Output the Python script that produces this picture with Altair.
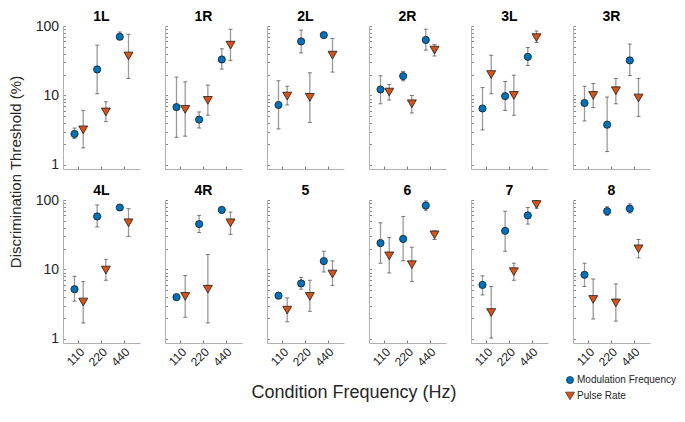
import altair as alt
import pandas as pd

panels = ["1L", "1R", "2L", "2R", "3L", "3R", "4L", "4R", "5", "6", "7", "8"]
freqs = ["110", "220", "440"]
series = ["Modulation Frequency", "Pulse Rate"]

mf_val = [[2.8, 23.7, 70], [6.8, 4.5, 33], [7.3, 60, 74], [12.2, 19, 63],
          [6.5, 9.8, 36], [7.8, 3.8, 32], [5.2, 58, 78], [4.0, 45, 72],
          [4.2, 6.3, 13.2], [24, 27.5, 83], [6.0, 36, 60], [8.4, 69, 75]]
mf_lo = [[2.4, 10.6, 64], [2.5, 3.4, 24], [3.3, 41, 69], [7.6, 16.3, 45],
         [3.2, 6.1, 27], [4.3, 1.56, 19.4], [3.5, 41, 73], [3.8, 34, 67],
         [4.0, 5.2, 9.2], [12.3, 13.3, 71], [4.3, 18.3, 45], [5.7, 60, 65]]
mf_hi = [[3.4, 53, 82], [18.4, 5.8, 47], [16.3, 87, 80], [19.2, 22.2, 90],
         [13, 15.9, 49], [13.6, 9.5, 55], [8.0, 85, 83], [4.1, 60, 77],
         [4.4, 7.7, 18.3], [47, 58, 97], [8.1, 69, 78], [12.3, 80, 88]]
pr_val = [[3.2, 5.8, 37], [6.3, 8.5, 53], [9.8, 9.4, 38], [11.2, 7.6, 45],
          [20, 10, 68], [10, 11.7, 9.2], [3.4, 9.8, 47], [4.1, 5.2, 47],
          [2.6, 4.1, 8.6], [15.7, 11.7, 31.5], [2.4, 9.3, 86], [3.7, 3.3, 19.8]]
pr_lo = [[1.76, 4.2, 17.6], [2.6, 5.2, 32], [7.3, 4.1, 21.7], [8.6, 5.6, 37],
         [10.6, 5.2, 58], [6.7, 7.6, 5.0], [1.7, 7.0, 30], [2.05, 1.7, 32],
         [1.77, 2.5, 5.9], [8.9, 6.7, 27], [1.03, 7.0, 76], [1.94, 1.81, 14.7]]
pr_hi = [[6.1, 8.1, 76], [15.7, 14.1, 90], [13.6, 21.2, 66], [14.4, 10, 54],
         [38, 19.6, 85], [14.9, 17.6, 17.6], [6.7, 14, 75], [8.2, 16.4, 67],
         [3.9, 7.0, 13.3], [28.8, 20.9, 36], [5.7, 12.3, 98], [7.3, 6.2, 27]]

rows = []
for i, p in enumerate(panels):
    for j, f in enumerate(freqs):
        rows.append(dict(panel=p, freq=f, series=series[0], value=mf_val[i][j], lo=mf_lo[i][j], hi=mf_hi[i][j]))
        rows.append(dict(panel=p, freq=f, series=series[1], value=pr_val[i][j], lo=pr_lo[i][j], hi=pr_hi[i][j]))
df = pd.DataFrame(rows)

FONT = "Liberation Sans"
TXT = "#262626"
W, H = 77, 143
ytick_vals = [1, 2, 3, 4, 5, 6, 7, 8, 9, 10, 20, 30, 40, 50, 60, 70, 80, 90, 100]


def panel(name, first_col, bottom_row):
    d = df[df.panel == name]
    xaxis = alt.Axis(title=None, labels=bottom_row, labelAngle=-45, labelFontSize=12,
                     labelFont=FONT, labelColor=TXT, labelPadding=6,
                     tickSize={"expr": "-3"}, tickColor="#777", domainColor="#b0b0b0")
    yaxis = alt.Axis(title=None, values=ytick_vals, labels=first_col,
                     labelExpr="datum.value == 1 || datum.value == 10 || datum.value == 100 ? format(datum.value, 'd') : ''",
                     labelFontSize=14, labelFont=FONT, labelColor=TXT, labelPadding=7,
                     tickSize={"expr": "-2.5"}, tickColor="#888", domainColor="#b0b0b0", grid=False)
    x = alt.X("freq:N", scale=alt.Scale(domain=freqs, paddingInner=0, paddingOuter=0.2), axis=xaxis)
    xo = alt.XOffset("series:N", scale=alt.Scale(domain=series, paddingOuter=0.3))
    ysc = alt.Scale(type="log", domain=[0.875, 100], nice=False)

    def Y(field):
        return alt.Y(f"{field}:Q", scale=ysc, axis=yaxis)

    base = alt.Chart(d).encode(x=x, xOffset=xo)
    bars = base.mark_rule(color="#9a9a9a", strokeWidth=1.3).encode(y=Y("lo"), y2="hi:Q")
    cap_lo = base.mark_tick(color="#444", size=4, thickness=1).encode(y=Y("lo"))
    cap_hi = base.mark_tick(color="#444", size=4, thickness=1).encode(y=Y("hi"))
    pts = base.mark_point(filled=True, opacity=1, stroke="#1a1a1a", strokeWidth=0.8).encode(
        y=Y("value"),
        shape=alt.Shape("series:N", scale=alt.Scale(domain=series, range=["circle", "triangle-down"]), legend=None),
        fill=alt.Fill("series:N", scale=alt.Scale(domain=series, range=["#0072BD", "#D95319"]), legend=None),
        size=alt.Size("series:N", scale=alt.Scale(domain=series, range=[52, 80]), legend=None),
    )
    ttl = alt.Chart(pd.DataFrame({"t": [name]})).mark_text(
        fontSize=14, fontWeight="bold", font=FONT, color="black", baseline="alphabetic").encode(
        text="t:N", x=alt.value(W / 2), y=alt.value(-5))
    return alt.layer(bars, cap_lo, cap_hi, pts, ttl).properties(width=W, height=H)


row1 = alt.hconcat(*[panel(p, i == 0, False) for i, p in enumerate(panels[:6])], spacing=24)
row2 = alt.hconcat(*[panel(p, i == 0, True) for i, p in enumerate(panels[6:])], spacing=24)
grid = alt.vconcat(row1, row2, spacing=12)

ytitle = alt.Chart(pd.DataFrame({"t": ["Discrimination Threshold (%)"]})).mark_text(
    angle=270, fontSize=15, font=FONT, color=TXT).encode(
    text="t:N", x=alt.value(2), y=alt.value(146)).properties(width=10, height=300)

leg_df = pd.DataFrame({"series": series})
leg_y = alt.Y("series:N", scale=alt.Scale(domain=series, range=[12, 28], padding=0), axis=None)
leg_pts = alt.Chart(leg_df).mark_point(filled=True, opacity=1, stroke="#1a1a1a", strokeWidth=0.6).encode(
    x=alt.value(507), y=leg_y,
    shape=alt.Shape("series:N", scale=alt.Scale(domain=series, range=["circle", "triangle-down"]), legend=None),
    fill=alt.Fill("series:N", scale=alt.Scale(domain=series, range=["#0072BD", "#D95319"]), legend=None),
    size=alt.Size("series:N", scale=alt.Scale(domain=series, range=[95, 110]), legend=None))
leg_txt = alt.Chart(leg_df).mark_text(align="left", fontSize=10, font=FONT, color=TXT).encode(
    x=alt.value(514), y=leg_y, text="series:N")
xtitle = alt.Chart(pd.DataFrame({"t": ["Condition Frequency (Hz)"]})).mark_text(
    fontSize=18, font=FONT, color=TXT).encode(text="t:N", x=alt.value(291), y=alt.value(25))
bottom = alt.layer(xtitle, leg_pts, leg_txt).properties(width=540, height=34)

chart = alt.hconcat(ytitle, alt.vconcat(grid, bottom, spacing=0), spacing=10).properties(
    padding={"top": 2, "left": 0, "right": 0, "bottom": 0}, background="white").configure_view(strokeOpacity=0)

chart.save("out.html", embed_options={"renderer": "svg", "actions": False})
